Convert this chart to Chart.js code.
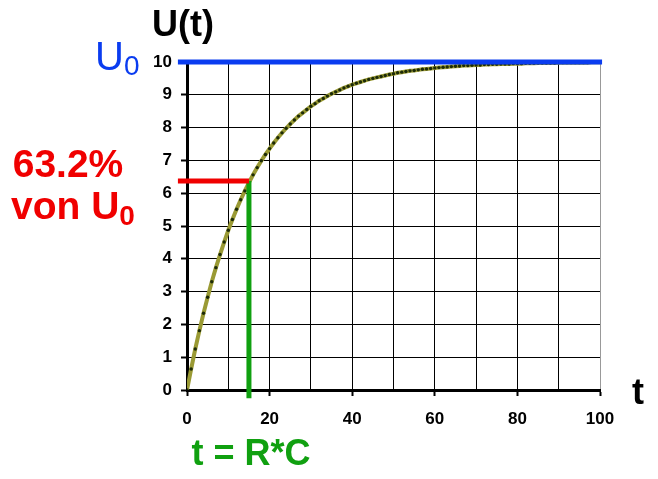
<!DOCTYPE html>
<html>
<head>
<meta charset="utf-8">
<script src="https://cdn.jsdelivr.net/npm/chart.js@4"></script>
<style>
body { margin:0; background:#fff; }
</style>
</head>
<body>
<canvas id="chart" width="658" height="479"></canvas>
<script>
// time axis (0..100) and read-off voltage values
const times = [0,1,2,3,4,5,6,7,8,9,10,11,12,13,14,15,16,17,18,19,20,21,22,23,24,25,26,27,28,29,30,
  31,32,33,34,35,36,37,38,39,40,41,42,43,44,45,46,47,48,49,50,51,52,53,54,55,56,57,58,59,60,
  61,62,63,64,65,66,67,68,69,70,71,72,73,74,75,76,77,78,79,80,81,82,83,84,85,86,87,88,89,90,
  91,92,93,94,95,96,97,98,99,100];
const voltage = [0,0.64,1.25,1.81,2.34,2.83,3.30,3.73,4.13,4.51,4.87,5.20,5.51,5.80,6.07,6.32,6.56,6.78,6.99,7.18,7.36,
  7.53,7.69,7.84,7.98,8.11,8.23,8.35,8.45,8.55,8.65,8.73,8.82,8.89,8.96,9.03,9.09,9.15,9.21,9.26,9.31,
  9.35,9.39,9.43,9.47,9.50,9.53,9.56,9.59,9.62,9.64,9.67,9.69,9.71,9.73,9.74,9.76,9.78,9.79,9.80,9.82,
  9.83,9.84,9.85,9.86,9.87,9.88,9.89,9.89,9.90,9.91,9.91,9.92,9.92,9.93,9.93,9.94,9.94,9.94,9.95,9.95,
  9.95,9.96,9.96,9.96,9.97,9.97,9.97,9.97,9.97,9.98,9.98,9.98,9.98,9.98,9.98,9.98,9.98,9.99,9.99,9.99];
const xTicks = [0,20,40,60,80,100];
const yTicks = [0,1,2,3,4,5,6,7,8,9,10];

// marker lines
const u0Line = [{x:-2.2,y:10},{x:100.5,y:10}];
const tauT = 15;
const tauU = 6.37;
const redLine = [{x:-2.2,y:tauU},{x:tauT,y:tauU}];
const greenLine = [{x:tauT,y:tauU},{x:tauT,y:-0.25}];

const curve = times.map((t,i) => ({x:t, y:voltage[i]}));

const FONT = '"Liberation Sans", Arial, sans-serif';

// extra labels drawn on the canvas
const labelPlugin = {
  id: 'labels',
  afterDraw(chart) {
    const c = chart.ctx;
    c.save();
    c.textBaseline = 'middle';
    c.textAlign = 'center';
    c.fillStyle = '#000';
    c.font = 'bold 36px ' + FONT;
    c.fillText('U(t)', 183, 26);
    c.fillText('t', 638, 394);

    // U0 (blue)
    c.fillStyle = '#0a3cf0';
    c.textAlign = 'left';
    c.font = '40px ' + FONT;
    c.fillText('U', 95, 59);
    let w = c.measureText('U').width;
    c.font = '28px ' + FONT;
    c.fillText('0', 95 + w, 67);

    // 63.2% von U0 (red)
    c.fillStyle = '#f00000';
    c.font = 'bold 39px ' + FONT;
    c.textAlign = 'center';
    c.fillText('63.2%', 68, 166);
    c.textAlign = 'left';
    c.fillText('von U', 11, 208);
    w = c.measureText('von U').width;
    c.font = 'bold 28px ' + FONT;
    c.fillText('0', 11 + w, 217);

    // t = R*C (green)
    c.fillStyle = '#10a010';
    c.font = 'bold 36px ' + FONT;
    c.textAlign = 'center';
    c.fillText('t = R*C', 251, 455);
    c.restore();
  }
};

new Chart(document.getElementById('chart'), {
  type: 'line',
  data: {
    datasets: [
      {
        data: u0Line, borderColor: '#0a3cf0', borderWidth: 5, pointRadius: 0, clip: false, order: 0
      },
      {
        data: redLine, borderColor: '#f00000', borderWidth: 5, pointRadius: 0, clip: false, order: 1
      },
      {
        data: greenLine, borderColor: '#10a010', borderWidth: 5, pointRadius: 0, clip: false, order: 1
      },
      {
        data: curve, borderColor: '#9a9a34', borderWidth: 4, tension: 0,
        pointRadius: 1.7, pointBackgroundColor: '#1c2a08', pointBorderWidth: 0, order: 2
      }
    ]
  },
  options: {
    responsive: false,
    animation: false,
    layout: { padding: { left: 0, right: 58, top: 62, bottom: 0 } },
    plugins: { legend: { display: false }, tooltip: { enabled: false } },
    scales: {
      x: {
        type: 'linear', min: 0, max: 100,
        afterFit: s => { s.height = 89; },
        afterBuildTicks: s => { s.ticks = times.filter(t => t % 10 === 0).map(v => ({value: v})); },
        ticks: {
          color: '#000', padding: 13,
          font: { family: FONT, size: 17, weight: 'bold' },
          callback: v => xTicks.includes(v) ? String(v) : ''
        },
        grid: {
          color: c => c.tick && c.tick.value === 100 ? '#999' : '#000',
          lineWidth: 1,
          tickLength: 6, tickWidth: 2,
          tickColor: c => c.tick && xTicks.includes(c.tick.value) ? '#000' : 'rgba(0,0,0,0)'
        },
        border: { color: '#000', width: 3 }
      },
      y: {
        min: 0, max: 10,
        afterFit: s => { s.width = 187; },
        afterBuildTicks: s => { s.ticks = yTicks.map(v => ({value: v})); },
        ticks: {
          color: '#000', padding: 9,
          font: { family: FONT, size: 17, weight: 'bold' }
        },
        grid: { color: '#000', lineWidth: 1, tickLength: 6, tickWidth: 2, tickColor: '#000' },
        border: { color: '#000', width: 3 }
      }
    }
  },
  plugins: [labelPlugin]
});
</script>
</body>
</html>
